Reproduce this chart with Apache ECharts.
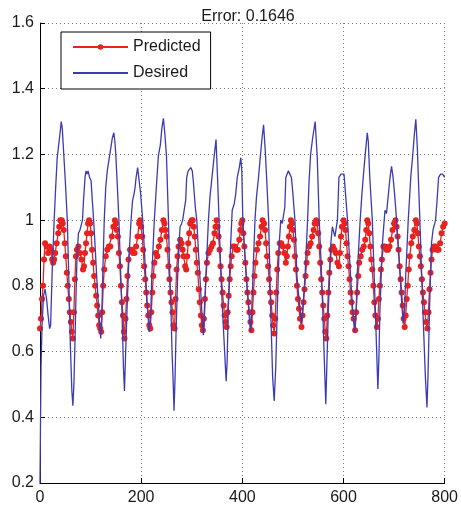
<!DOCTYPE html>
<html>
<head>
<meta charset="utf-8">
<script src="https://cdn.jsdelivr.net/npm/echarts@6/dist/echarts.min.js"></script>
<style>
  html, body { margin: 0; padding: 0; background: #fff; }
  #chart { width: 461px; height: 512px; }
</style>
</head>
<body>
<div id="chart"></div>
<script>
// Plot title and axis ticks
const titleText = 'Error: 0.1646';
const xTicks = [0, 200, 400, 600, 800];
const yTicks = [0.2, 0.4, 0.6, 0.8, 1.0, 1.2, 1.4, 1.6];
const seriesNames = ['Predicted', 'Desired'];

// Network output, [sample, value]
const predicted = [
  [0,0.67],[2,0.70],[4,0.76],[6,0.80],[8,0.88],[10,0.93],[13,0.92],[16,0.90],[19,0.92],[22,0.91],[24,0.88],[26,0.87],[28,0.88],[30,0.90],[33,0.93],[36,0.96],[38,0.98],[40,1.0],[43,1.0],[45,0.99],[47,0.97],[49,0.93],[51,0.89],[53,0.84],[55,0.80],[57,0.76],[59,0.72],[61,0.69],[63,0.66],[65,0.64],[67,0.72],[69,0.82],[71,0.89],[73,0.91],[76,0.92],[79,0.90],[82,0.88],[85,0.85],[87,0.86],[89,0.90],[91,0.93],[93,0.96],[95,0.99],[97,1.0],[99,0.99],
  [101,0.96],[103,0.91],[105,0.87],[107,0.83],[109,0.80],[111,0.77],[113,0.74],[115,0.71],[117,0.68],[119,0.67],[121,0.66],[123,0.72],[125,0.80],[127,0.85],[130,0.89],[133,0.91],[136,0.92],[139,0.92],[142,0.95],[145,0.98],[148,1.0],[150,0.99],[152,0.97],[154,0.95],[156,0.90],[158,0.86],[160,0.80],[162,0.75],[164,0.71],[166,0.66],[167,0.64],[169,0.70],[171,0.76],[173,0.83],[175,0.88],[178,0.91],[181,0.91],[184,0.90],[187,0.90],[190,0.92],[193,0.95],[196,0.99],[198,1.0],
  [200,0.98],[202,0.95],[204,0.91],[206,0.86],[208,0.82],[210,0.78],[212,0.74],[214,0.71],[216,0.68],[218,0.67],[220,0.72],[222,0.78],[224,0.83],[226,0.87],[229,0.90],[232,0.89],[235,0.92],[238,0.94],[241,0.97],[244,1.0],[246,0.99],[248,0.97],[250,0.95],[252,0.91],[254,0.86],[256,0.82],[258,0.78],[260,0.75],[262,0.72],[264,0.68],[266,0.67],[268,0.76],[270,0.85],[272,0.89],[274,0.92],[277,0.94],[280,0.93],[282,0.91],[284,0.89],[287,0.86],[289,0.85],[291,0.89],[293,0.93],[295,0.96],[297,0.99],
  [300,1.0],[302,1.0],[304,0.98],[306,0.95],[308,0.91],[310,0.87],[312,0.84],[314,0.79],[316,0.75],[318,0.71],[320,0.68],[322,0.665],[324,0.70],[326,0.76],[328,0.82],[330,0.87],[333,0.90],[336,0.91],[339,0.92],[342,0.93],[345,0.96],[347,0.98],[349,1.0],[351,0.98],[353,0.95],[355,0.91],[357,0.86],[359,0.82],[361,0.78],[363,0.74],[365,0.71],[367,0.69],[369,0.675],[371,0.72],[373,0.77],[375,0.82],[377,0.86],[379,0.89],[382,0.92],[385,0.92],[388,0.91],[391,0.91],[394,0.94],[396,0.97],[398,0.99],
  [400,1.0],[402,0.96],[404,0.92],[406,0.87],[408,0.82],[410,0.78],[412,0.75],[414,0.72],[416,0.69],[418,0.665],[420,0.72],[422,0.78],[424,0.83],[426,0.87],[429,0.91],[432,0.93],[435,0.95],[438,0.98],[440,1.0],[443,0.99],[445,0.97],[447,0.93],[449,0.89],[451,0.86],[453,0.82],[455,0.78],[457,0.75],[459,0.71],[461,0.68],[463,0.655],[465,0.70],[467,0.78],[469,0.85],[471,0.90],[474,0.93],[477,0.93],[480,0.92],[483,0.90],[486,0.87],[488,0.89],[490,0.92],[492,0.95],[494,0.98],[496,1.0],[498,0.99],
  [500,0.97],[502,0.94],[504,0.89],[506,0.85],[508,0.80],[510,0.76],[512,0.73],[514,0.70],[517,0.675],[519,0.71],[521,0.75],[523,0.79],[525,0.83],[527,0.87],[529,0.90],[532,0.92],[535,0.93],[538,0.95],[541,0.97],[543,0.99],[546,1.0],[548,0.99],[550,0.96],[552,0.92],[554,0.87],[556,0.82],[558,0.78],[560,0.74],[562,0.70],[564,0.66],[566,0.64],[568,0.71],[570,0.78],[572,0.84],[574,0.88],[576,0.91],[579,0.92],[582,0.91],[585,0.90],[588,0.87],[591,0.86],[593,0.90],[595,0.95],[597,0.98],
  [600,1.0],[602,0.99],[604,0.97],[606,0.93],[608,0.89],[610,0.86],[612,0.82],[614,0.78],[616,0.75],[618,0.72],[620,0.70],[623,0.665],[625,0.72],[627,0.78],[629,0.83],[631,0.87],[634,0.89],[637,0.91],[640,0.92],[643,0.94],[645,0.97],[647,1.0],[649,0.99],[651,0.96],[653,0.92],[655,0.88],[657,0.85],[659,0.80],[661,0.75],[663,0.71],[666,0.675],[668,0.70],[670,0.76],[672,0.80],[674,0.85],[676,0.88],[679,0.92],[682,0.92],[685,0.91],[688,0.91],[691,0.92],[694,0.94],[697,0.97],
  [700,0.99],[703,1.0],[705,0.98],[707,0.95],[709,0.91],[711,0.86],[713,0.82],[715,0.78],[717,0.74],[719,0.70],[721,0.675],[723,0.71],[725,0.76],[727,0.80],[729,0.85],[731,0.89],[734,0.93],[737,0.95],[740,0.97],[743,1.0],[745,0.99],[747,0.96],[749,0.92],[751,0.89],[753,0.86],[755,0.82],[757,0.78],[759,0.75],[761,0.72],[763,0.69],[766,0.67],[768,0.72],[770,0.79],[772,0.84],[774,0.88],[776,0.91],[779,0.92],[782,0.92],[785,0.91],[788,0.91],[791,0.93],[794,0.96],[797,0.98],[800,0.99]
];

// Target signal, [sample, value]
const desired = [
  [0,0.2],[1,0.38],[2,0.55],[4,0.68],[7,0.77],[10,0.79],[13,0.76],[16,0.71],[19,0.67],[21,0.68],[24,0.84],[28,1.0],[31,1.1],[34,1.19],[37,1.23],[40,1.27],[42,1.30],[44,1.28],[47,1.2],[50,1.12],[54,1.0],[57,0.82],[60,0.62],[63,0.48],[65,0.435],[67,0.50],[69,0.62],[71,0.76],[73,0.88],[76,0.96],[79,0.97],[81,0.975],[84,1.0],[86,1.06],[89,1.13],[91,1.15],[93,1.14],[95,1.15],[98,1.13],
  [101,1.12],[103,1.07],[106,1.0],[109,0.92],[112,0.83],[116,0.73],[120,0.64],[122,0.70],[124,0.83],[127,1.0],[130,1.1],[133,1.15],[137,1.19],[141,1.23],[143,1.25],[146,1.266],[148,1.24],[150,1.195],[153,1.1],[156,1.0],[159,0.86],[162,0.725],[165,0.55],[167,0.48],[169,0.58],[172,0.725],[176,0.89],[180,1.0],[183,1.06],[186,1.08],[188,1.10],[190,1.13],[193,1.16],[196,1.155],[199,1.08],
  [203,1.0],[206,0.92],[209,0.83],[212,0.74],[216,0.66],[219,0.72],[221,0.83],[226,1.0],[230,1.1],[234,1.195],[238,1.23],[241,1.28],[244,1.31],[247,1.26],[250,1.195],[254,1.0],[256,0.86],[259,0.725],[261,0.6],[263,0.52],[265,0.42],[267,0.52],[269,0.66],[272,0.82],[275,0.93],[277,0.98],[280,0.99],[282,1.0],[285,1.0],[288,1.06],[290,1.13],[293,1.15],[295,1.15],[298,1.16],
  [301,1.15],[303,1.12],[307,1.04],[310,1.0],[313,0.91],[316,0.83],[320,0.72],[323,0.65],[325,0.70],[328,0.83],[333,1.0],[336,1.07],[340,1.13],[344,1.19],[348,1.245],[351,1.13],[354,1.0],[357,0.86],[361,0.72],[365,0.6],[368,0.51],[370,0.57],[372,0.72],[377,0.93],[380,1.03],[384,1.05],[387,1.08],[390,1.13],[394,1.16],[397,1.19],[399,1.15],
  [401,1.0],[404,0.92],[408,0.83],[412,0.74],[416,0.66],[418,0.70],[421,0.83],[425,1.0],[428,1.07],[432,1.13],[436,1.2],[439,1.25],[442,1.29],[445,1.22],[448,1.13],[452,1.0],[456,0.73],[460,0.52],[463,0.45],[466,0.55],[469,0.725],[473,0.93],[476,1.0],[479,0.99],[482,0.99],[484,1.04],[486,1.13],[491,1.15],[494,1.14],[497,1.13],
  [500,1.08],[504,1.0],[508,0.83],[512,0.76],[517,0.685],[520,0.74],[524,0.83],[529,1.0],[532,1.12],[535,1.2],[539,1.25],[544,1.30],[548,1.195],[552,1.0],[556,0.86],[559,0.725],[562,0.58],[565,0.44],[567,0.55],[570,0.725],[575,0.93],[578,0.98],[583,0.95],[588,1.0],[591,1.13],[595,1.14],[598,1.14],
  [601,1.14],[604,1.08],[608,1.0],[611,0.91],[614,0.83],[618,0.73],[622,0.66],[625,0.72],[627,0.83],[633,1.0],[636,1.07],[639,1.13],[643,1.2],[647,1.266],[649,1.24],[652,1.13],[657,1.0],[660,0.86],[663,0.725],[666,0.58],[668,0.486],[670,0.58],[672,0.725],[677,0.93],[682,1.03],[685,1.02],[688,1.02],[692,1.13],[695,1.164],[698,1.13],
  [701,1.08],[705,1.0],[709,0.9],[712,0.83],[715,0.75],[718,0.685],[721,0.73],[723,0.83],[728,1.0],[733,1.13],[737,1.2],[740,1.26],[743,1.307],[746,1.22],[748,1.13],[751,1.0],[754,0.86],[757,0.725],[760,0.6],[762,0.52],[765,0.43],[767,0.52],[770,0.725],[774,0.93],[777,0.97],[782,1.0],[785,1.06],[788,1.13],[792,1.14],[796,1.14],[800,1.13]
];

const chart = echarts.init(document.getElementById('chart'), null, { renderer: 'canvas' });

const textColor = '#1a1a1a';
const redColor = '#e8231f';
const blueColor = '#3b3bb5';
const gridLine = { show: true, lineStyle: { color: '#7a7a7a', width: 1, type: [1, 3] } };

chart.setOption({
  animation: false,
  backgroundColor: '#ffffff',
  textStyle: { fontFamily: 'Liberation Sans, Arial, sans-serif' },
  title: {
    text: titleText,
    left: 243,
    textAlign: 'center',
    top: 4,
    textStyle: { fontSize: 16, fontWeight: 'normal', color: textColor }
  },
  legend: {
    orient: 'vertical',
    left: 61,
    top: 32,
    padding: [7, 10, 8, 11],
    itemWidth: 55,
    itemHeight: 7,
    itemGap: 10,
    backgroundColor: '#ffffff',
    borderColor: '#000000',
    borderWidth: 1,
    borderRadius: 0,
    textStyle: { fontSize: 16, color: textColor, lineHeight: 16 },
    data: [
      { name: seriesNames[0] },
      // plain line sample for the target signal: hide the marker dot
      { name: seriesNames[1], itemStyle: { opacity: 0 } }
    ]
  },
  grid: { left: 40, right: 13, top: 23, bottom: 29, containLabel: false },
  xAxis: {
    type: 'value',
    min: xTicks[0],
    max: xTicks[xTicks.length - 1],
    interval: xTicks[1] - xTicks[0],
    axisLine: { show: true, onZero: false, lineStyle: { color: '#000', width: 1 } },
    axisTick: { show: true, inside: true, length: 5, lineStyle: { color: '#000' } },
    axisLabel: { fontSize: 16, color: textColor, margin: 7 },
    splitLine: gridLine
  },
  yAxis: {
    type: 'value',
    min: yTicks[0],
    max: yTicks[yTicks.length - 1],
    interval: 0.2,
    axisLine: { show: true, onZero: false, lineStyle: { color: '#000', width: 1 } },
    axisTick: { show: true, inside: true, length: 5, lineStyle: { color: '#000' } },
    axisLabel: { fontSize: 16, color: textColor, margin: 6 },
    splitLine: gridLine
  },
  series: [
    {
      name: seriesNames[0],
      type: 'line',
      data: predicted,
      symbol: 'circle',
      symbolSize: 6,
      showSymbol: true,
      showAllSymbol: true,
      lineStyle: { color: redColor, width: 1.3 },
      itemStyle: { color: redColor },
      z: 2
    },
    {
      name: seriesNames[1],
      type: 'line',
      data: desired,
      symbol: 'none',
      lineStyle: { color: blueColor, width: 1.3 },
      itemStyle: { color: blueColor },
      z: 3
    }
  ]
});
</script>
</body>
</html>
